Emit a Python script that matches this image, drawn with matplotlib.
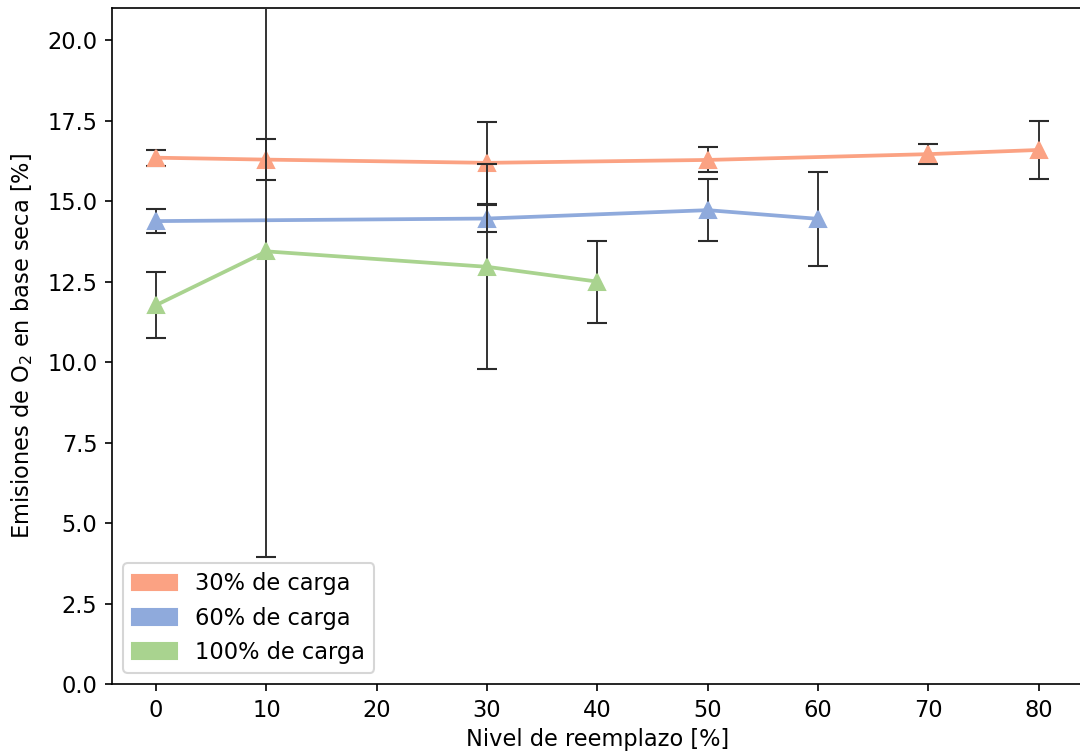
import matplotlib
matplotlib.use("Agg")
import matplotlib.pyplot as plt
from matplotlib.patches import Patch

# Replacement level [%] and O2 emissions (dry basis) per load level
x_30 = [0, 10, 30, 50, 70, 80]
o2_30 = [16.35, 16.29, 16.19, 16.28, 16.46, 16.59]
err_30 = [0.25, 0.63, 1.27, 0.39, 0.31, 0.89]

x_60 = [0, 30, 50, 60]
o2_60 = [14.38, 14.46, 14.72, 14.45]
err_60 = [0.37, 0.43, 0.96, 1.46]

x_100 = [0, 10, 30, 40]
o2_100 = [11.77, 13.44, 12.96, 12.50]
err_100 = [1.03, 9.50, 3.18, 1.27]

labels = ["30% de carga", "60% de carga", "100% de carga"]
colors = ["#FBA283", "#8FAADC", "#A9D38F"]

plt.rcParams["font.size"] = 10.8

fig = plt.figure(figsize=(7.2, 754 / 150), dpi=150)
ax = fig.add_axes([0.1037, 0.0928, 0.899, 0.8966])

series = [(x_30, o2_30, err_30), (x_60, o2_60, err_60), (x_100, o2_100, err_100)]
for i, ((xs, ys, es), c) in enumerate(zip(series, colors)):
    ax.errorbar(xs, ys, yerr=es, fmt="none", ecolor="#2b2b2b", elinewidth=0.9,
                capsize=5, capthick=1.0, zorder=2 + 2 * i)
    ax.plot(xs, ys, color=c, lw=1.8, marker="^", markersize=8, zorder=3 + 2 * i)

ax.set_xlim(-4, 84)
ax.set_ylim(0, 21)
ax.set_xticks(range(0, 81, 10))
ax.set_yticks([0, 2.5, 5, 7.5, 10, 12.5, 15, 17.5, 20])
ax.set_xlabel("Nivel de reemplazo [%]", labelpad=3)
ax.set_ylabel("Emisiones de O$_2$ en base seca [%]", labelpad=6)

handles = [Patch(facecolor=c, edgecolor=c) for c in colors]
ax.legend(handles, labels, loc="lower left", fontsize=10.8)

fig.savefig("out.png", dpi=150)
